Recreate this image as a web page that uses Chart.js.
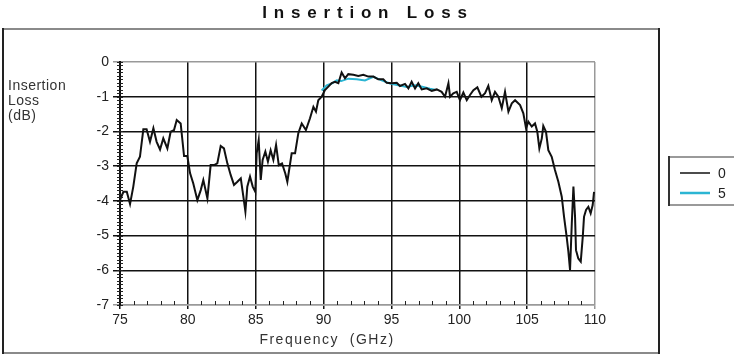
<!doctype html>
<html lang="en">
<head>
    <meta charset="utf-8">
    <title>Insertion Loss</title>
    <style>
        * {
            margin: 0;
            padding: 0;
        }

        body {
            background: #fff;
        }

        .chartBox {
            width: 734px;
            height: 360px;
        }
    </style>
</head>
<body>
<div class="chartBox">
    <canvas id="myChart"></canvas>
</div>
<script src="https://cdn.jsdelivr.net/npm/chart.js"></script>
<script>
    // data
    const freq0 = [
        75.0, 75.25, 75.5, 75.74, 75.98, 76.23, 76.47, 76.72, 76.96, 77.21,
        77.46, 77.7, 77.95, 78.19, 78.49, 78.73, 78.98, 79.18, 79.47, 79.72,
        79.96, 80.16, 80.4, 80.7, 80.95, 81.14, 81.44, 81.68, 81.93, 82.17,
        82.42, 82.66, 82.91, 83.16, 83.4, 83.65, 83.9, 84.09, 84.24, 84.38,
        84.58, 84.78, 84.97, 85.07, 85.22, 85.37, 85.51, 85.71, 85.9, 86.1,
        86.3, 86.5, 86.7, 86.94, 87.18, 87.33, 87.65, 87.9, 88.14, 88.39,
        88.7, 89.0, 89.25, 89.44, 89.61, 89.86, 90.1, 90.35, 90.6, 90.84,
        91.09, 91.33, 91.58, 91.82, 92.19, 92.56, 92.93, 93.3, 93.67, 94.03,
        94.4, 94.65, 95.02, 95.39, 95.63, 96.0, 96.25, 96.49, 96.74, 96.98,
        97.23, 97.6, 97.97, 98.34, 98.7, 98.95, 99.2, 99.32, 99.56, 99.81,
        100.05, 100.3, 100.55, 100.79, 101.04, 101.33, 101.63, 101.9, 102.14, 102.39,
        102.63, 102.88, 103.13, 103.37, 103.62, 103.87, 104.11, 104.48, 104.72, 104.92,
        105.09, 105.34, 105.58, 105.75, 105.9, 106.08, 106.19, 106.39, 106.56, 106.81,
        107.05, 107.3, 107.55, 107.72, 107.91, 108.04, 108.16, 108.29, 108.41, 108.53,
        108.6, 108.77, 108.95, 109.1, 109.19, 109.34, 109.51, 109.68, 109.83, 109.93
    ];
    const loss0 = [
        -3.98, -3.74, -3.74, -4.09, -3.59, -2.92, -2.73, -1.94, -1.94, -2.30,
        -1.91, -2.30, -2.52, -2.20, -2.49, -2.01, -1.96, -1.67, -1.77, -2.71,
        -2.71, -3.20, -3.50, -3.98, -3.69, -3.40, -3.93, -2.97, -2.97, -2.92,
        -2.42, -2.49, -2.92, -3.26, -3.54, -3.45, -3.35, -3.88, -4.31, -3.59,
        -3.30, -3.59, -3.74, -2.63, -2.25, -3.40, -2.82, -2.58, -2.87, -2.54,
        -2.82, -2.39, -2.97, -2.92, -3.21, -3.45, -2.63, -2.63, -2.05, -1.77,
        -1.96, -1.62, -1.29, -1.43, -1.10, -1.00, -0.81, -0.71, -0.61, -0.57,
        -0.61, -0.30, -0.47, -0.35, -0.37, -0.40, -0.37, -0.42, -0.42, -0.50,
        -0.50, -0.60, -0.61, -0.60, -0.69, -0.63, -0.76, -0.57, -0.76, -0.61,
        -0.79, -0.76, -0.83, -0.79, -0.86, -1.00, -0.61, -1.00, -0.90, -0.86,
        -1.10, -0.88, -1.10, -0.95, -0.81, -0.73, -1.00, -0.90, -0.69, -1.10,
        -0.86, -1.00, -1.33, -0.86, -1.43, -1.19, -1.10, -1.24, -1.48, -1.91,
        -1.72, -1.86, -1.77, -2.01, -2.49, -2.20, -1.84, -2.01, -2.54, -2.73,
        -3.11, -3.45, -3.88, -4.46, -5.03, -5.47, -5.99, -4.65, -3.59, -4.46,
        -5.42, -5.66, -5.75, -5.03, -4.46, -4.26, -4.17, -4.36, -4.12, -3.74
    ];
    const freq5 = [
        89.86, 90.23, 90.6, 90.97, 91.3, 91.82, 92.44, 93.05, 93.67, 94.28,
        94.9, 95.51, 96.13, 96.74, 97.35, 97.84, 98.2
    ];
    const loss5 = [
        -0.82, -0.67, -0.62, -0.53, -0.55, -0.48, -0.50, -0.53, -0.43, -0.53,
        -0.62, -0.67, -0.72, -0.67, -0.72, -0.77, -0.80
    ];
    const seriesNames = ['0', '5'];
    const xTicks = [75, 80, 85, 90, 95, 100, 105, 110];
    const yTicks = [0, -1, -2, -3, -4, -5, -6, -7];

    const FONT = '"Liberation Sans", Arial, sans-serif';

    // setup
    const data = {
        datasets: [{
            label: seriesNames[0],
            data: freq0.map((f, i) => ({x: f, y: loss0[i]})),
            borderColor: '#111',
            backgroundColor: '#111',
            borderWidth: 2,
            pointRadius: 0,
            tension: 0,
            order: 0
        }, {
            label: seriesNames[1],
            data: freq5.map((f, i) => ({x: f, y: loss5[i]})),
            borderColor: '#2bb5d3',
            backgroundColor: '#2bb5d3',
            borderWidth: 2,
            pointRadius: 0,
            tension: 0,
            order: 1
        }]
    };

    // frame, titles, minor ticks and legend
    const decor = {
        id: 'decor',
        beforeDraw(chart) {
            const {ctx} = chart;
            ctx.save();
            ctx.fillStyle = '#fff';
            ctx.fillRect(0, 0, chart.width, chart.height);
            // outer box
            ctx.lineWidth = 2;
            ctx.strokeStyle = '#8a8a8a';
            ctx.beginPath();
            ctx.moveTo(2, 29); ctx.lineTo(659, 29);
            ctx.moveTo(2, 353); ctx.lineTo(659, 353);
            ctx.stroke();
            ctx.strokeStyle = '#222';
            ctx.beginPath();
            ctx.moveTo(3, 28); ctx.lineTo(3, 354);
            ctx.moveTo(659, 28); ctx.lineTo(659, 354);
            ctx.stroke();
            ctx.restore();
        },
        afterDraw(chart) {
            const {ctx, chartArea: {left, bottom}, scales: {x, y}} = chart;
            ctx.save();

            // minor ticks
            ctx.strokeStyle = '#222';
            ctx.lineWidth = 1;
            ctx.beginPath();
            for (let i = 0; i <= 70; i++) {
                const py = Math.round(y.getPixelForValue(-i / 10)) + 0.5;
                ctx.moveTo(left - 3, py);
                ctx.lineTo(left + 3, py);
            }
            for (let f = 76; f < 110; f++) {
                if (f % 5 === 0) continue;
                const px = Math.round(x.getPixelForValue(f)) + 0.5;
                ctx.moveTo(px, bottom);
                ctx.lineTo(px, bottom - 4);
            }
            ctx.stroke();

            // title
            ctx.fillStyle = '#111';
            ctx.font = 'bold 17px ' + FONT;
            ctx.letterSpacing = '6.8px';
            ctx.textAlign = 'center';
            ctx.textBaseline = 'middle';
            ctx.fillText('Insertion Loss', 368, 13);

            // axis titles
            ctx.fillStyle = '#333';
            ctx.font = '14px ' + FONT;
            ctx.letterSpacing = '1.5px';
            ctx.textAlign = 'center';
            ctx.fillText('Frequency  (GHz)', 327, 340);
            ctx.textAlign = 'left';
            ctx.letterSpacing = '0.5px';
            ctx.fillText('Insertion', 8, 86);
            ctx.fillText('Loss', 8, 101);
            ctx.fillText('(dB)', 8, 116);

            // legend
            ctx.letterSpacing = '0px';
            ctx.lineWidth = 2;
            ctx.strokeStyle = '#9a9a9a';
            ctx.beginPath();
            ctx.moveTo(669, 157); ctx.lineTo(734, 157);
            ctx.moveTo(669, 205); ctx.lineTo(734, 205);
            ctx.stroke();
            ctx.strokeStyle = '#333';
            ctx.beginPath();
            ctx.moveTo(669, 156); ctx.lineTo(669, 206);
            ctx.stroke();
            chart.data.datasets.forEach((ds, i) => {
                const ly = 173 + i * 20;
                ctx.strokeStyle = ds.borderColor;
                ctx.lineWidth = i === 0 ? 1.5 : 2.5;
                ctx.beginPath();
                ctx.moveTo(680, ly);
                ctx.lineTo(710, ly);
                ctx.stroke();
                ctx.fillStyle = '#222';
                ctx.font = '14px ' + FONT;
                ctx.textAlign = 'left';
                ctx.fillText(ds.label, 718, ly + 1);
            });
            ctx.restore();
        }
    };

    const gridColor = (edge) => (c) => (edge.includes(c.tick.value) ? '#999' : '#111');

    // config
    const config = {
        type: 'line',
        data,
        options: {
            responsive: false,
            animation: false,
            layout: {
                padding: {left: 0, right: 139, top: 62, bottom: 0}
            },
            plugins: {
                legend: {display: false},
                title: {display: false},
                tooltip: {enabled: false}
            },
            scales: {
                x: {
                    type: 'linear',
                    min: xTicks[0],
                    max: xTicks[xTicks.length - 1],
                    afterBuildTicks: (s) => { s.ticks = xTicks.map(v => ({value: v})); },
                    afterFit: (s) => { s.height = 55; },
                    ticks: {
                        color: '#222',
                        font: {family: FONT, size: 14},
                        padding: 3,
                        maxRotation: 0
                    },
                    grid: {
                        color: gridColor([110]),
                        lineWidth: 1.5,
                        tickLength: 4,
                        drawTicks: true
                    },
                    border: {color: '#999', width: 1.5}
                },
                y: {
                    min: yTicks[yTicks.length - 1],
                    max: yTicks[0],
                    afterBuildTicks: (s) => { s.ticks = yTicks.map(v => ({value: v})); },
                    afterFit: (s) => { s.width = 120; },
                    ticks: {
                        color: '#222',
                        font: {family: FONT, size: 14},
                        padding: 4
                    },
                    grid: {
                        color: gridColor([0, -7]),
                        lineWidth: 1.5,
                        tickLength: 7
                    },
                    border: {color: '#111', width: 2}
                }
            }
        },
        plugins: [decor]
    };

    // render
    const canvas = document.getElementById('myChart');
    canvas.width = 734;
    canvas.height = 360;
    const myChart = new Chart(canvas, config);
</script>
</body>
</html>
